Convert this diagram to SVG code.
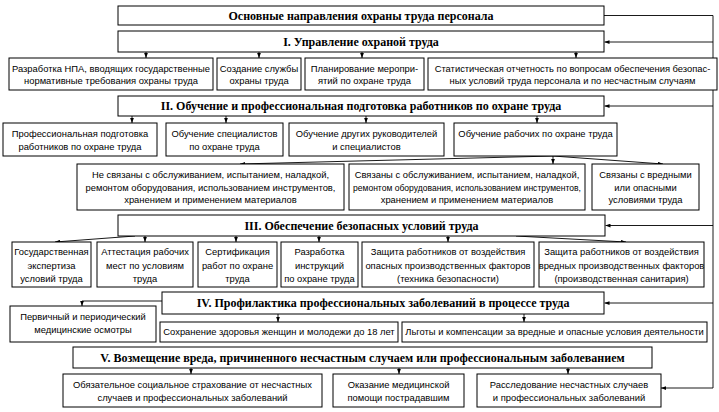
<svg xmlns="http://www.w3.org/2000/svg" width="719" height="412" viewBox="0 0 719 412">
<style>
.box{fill:#fff;stroke:#000;stroke-width:1}
.ln{fill:none;stroke:#000;stroke-width:0.9}
.t{font-family:"Liberation Sans",Arial,sans-serif;font-size:9.4px;text-anchor:middle;fill:#000}
.h{font-family:"Liberation Serif","Times New Roman",serif;font-weight:bold;font-size:12px;text-anchor:middle;fill:#000}
</style>
<defs>
<marker id="a" viewBox="0 0 8 6" refX="8" refY="3" markerWidth="5" markerHeight="4" orient="auto" markerUnits="userSpaceOnUse">
<path d="M0,0 L8,3 L0,6 z" fill="#000"/>
</marker>
</defs>
<rect width="719" height="412" fill="#fff"/>
<g id="connectors" class="ln">
<path d="M604,15.5 H713 V388 H661" marker-end="url(#a)"/>
<path d="M713,42 H604.5" marker-end="url(#a)"/>
<path d="M713,106 H604.5" marker-end="url(#a)"/>
<path d="M713,225.5 H605.5" marker-end="url(#a)"/>
<path d="M713,303 H604.5" marker-end="url(#a)"/>
<path d="M146,52 V58" marker-end="url(#a)"/>
<path d="M259,52 V58" marker-end="url(#a)"/>
<path d="M362,52 V58" marker-end="url(#a)"/>
<path d="M576,52 V58" marker-end="url(#a)"/>
<path d="M132,116 V123" marker-end="url(#a)"/>
<path d="M226,116 V123" marker-end="url(#a)"/>
<path d="M366,116 V123" marker-end="url(#a)"/>
<path d="M537,116 V123" marker-end="url(#a)"/>
<path d="M553,156 L240,164" marker-end="url(#a)"/>
<path d="M553,156 V164" marker-end="url(#a)"/>
<path d="M553,156 L663,164" marker-end="url(#a)"/>
<path d="M135,236 L55,242" marker-end="url(#a)"/>
<path d="M145,236 V242" marker-end="url(#a)"/>
<path d="M236,236 V242" marker-end="url(#a)"/>
<path d="M319,236 V242" marker-end="url(#a)"/>
<path d="M448,236 V242" marker-end="url(#a)"/>
<path d="M516,236 L626,242" marker-end="url(#a)"/>
<path d="M162,301 H82 V306" marker-end="url(#a)"/>
<path d="M278,314 V322" marker-end="url(#a)"/>
<path d="M524,314 V322" marker-end="url(#a)"/>
<path d="M191,368 V374" marker-end="url(#a)"/>
<path d="M399,368 V374" marker-end="url(#a)"/>
<path d="M568,368 V374" marker-end="url(#a)"/>
</g>
<g id="title"><rect class="box" x="118" y="6" width="486" height="19"/><text class="h" x="361" y="19.5">Основные направления охраны труда персонала</text></g>
<g id="sec1"><rect class="box" x="118" y="31" width="486" height="21"/><text class="h" x="361" y="45.5">I. Управление охраной труда</text></g>
<g id="n1a"><rect class="box" x="9" y="58" width="204" height="32"/><text class="t" x="111" y="71.5">Разработка НПА, вводящих государственные</text><text class="t" x="111" y="83.5">нормативные требования охраны труда</text></g>
<g id="n1b"><rect class="box" x="217" y="58" width="84" height="32"/><text class="t" x="259" y="71.5">Создание службы</text><text class="t" x="259" y="83.5">охраны труда</text></g>
<g id="n1c"><rect class="box" x="305" y="58" width="119" height="32"/><text class="t" x="364.5" y="71.5">Планирование меропри-</text><text class="t" x="364.5" y="83.5">ятий по охране труда</text></g>
<g id="n1d"><rect class="box" x="428" y="58" width="289" height="32"/><text class="t" x="572.5" y="71.5">Статистическая отчетность по вопросам обеспечения безопас-</text><text class="t" x="572.5" y="83.5">ных  условий труда персонала и по несчастным случаям</text></g>
<g id="sec2"><rect class="box" x="118" y="96" width="486" height="20"/><text class="h" x="361" y="110">II. Обучение и профессиональная подготовка работников по охране труда</text></g>
<g id="n2a"><rect class="box" x="3" y="123" width="154" height="33"/><text class="t" x="80" y="137">Профессиональная подготовка</text><text class="t" x="80" y="150">работников по охране труда</text></g>
<g id="n2b"><rect class="box" x="166" y="123" width="117" height="33"/><text class="t" x="224.5" y="137">Обучение специалистов</text><text class="t" x="224.5" y="150">по охране труда</text></g>
<g id="n2c"><rect class="box" x="289" y="123" width="155" height="33"/><text class="t" x="366.5" y="137">Обучение других руководителей</text><text class="t" x="366.5" y="150">и специалистов</text></g>
<g id="n2d"><rect class="box" x="454" y="123" width="163" height="33"/><text class="t" x="535.5" y="137">Обучение рабочих по охране труда</text></g>
<g id="n3a"><rect class="box" x="77" y="164" width="267" height="46"/><text class="t" x="210.5" y="178">Не связаны с обслуживанием, испытанием, наладкой,</text><text class="t" x="210.5" y="190.5">ремонтом оборудования, использованием инструментов,</text><text class="t" x="210.5" y="203">хранением и применением материалов</text></g>
<g id="n3b"><rect class="box" x="349" y="164" width="236" height="46"/><text class="t" x="467" y="178">Связаны с обслуживанием, испытанием, наладкой,</text><text class="t" x="467" y="190.5" textLength="228" lengthAdjust="spacingAndGlyphs">ремонтом оборудования, использованием инструментов,</text><text class="t" x="467" y="203">хранением и применением материалов</text></g>
<g id="n3c"><rect class="box" x="592" y="164" width="107" height="46"/><text class="t" x="645.5" y="178">Связаны с вредными</text><text class="t" x="645.5" y="190.5">или опасными</text><text class="t" x="645.5" y="203">условиями труда</text></g>
<g id="sec3"><rect class="box" x="118" y="215" width="487" height="21"/><text class="h" x="361.5" y="229.5">III. Обеспечение безопасных условий труда</text></g>
<g id="n4a"><rect class="box" x="12" y="242" width="79" height="45"/><text class="t" x="51.5" y="255">Государственная</text><text class="t" x="51.5" y="268.5">экспертиза</text><text class="t" x="51.5" y="282">условий труда</text></g>
<g id="n4b"><rect class="box" x="97" y="242" width="96" height="45"/><text class="t" x="145" y="255">Аттестация рабочих</text><text class="t" x="145" y="268.5">мест по условиям</text><text class="t" x="145" y="282">труда</text></g>
<g id="n4c"><rect class="box" x="198" y="242" width="79" height="45"/><text class="t" x="237.5" y="255">Сертификация</text><text class="t" x="237.5" y="268.5">работ по охране</text><text class="t" x="237.5" y="282">труда</text></g>
<g id="n4d"><rect class="box" x="281" y="242" width="77" height="45"/><text class="t" x="319.5" y="255">Разработка</text><text class="t" x="319.5" y="268.5">инструкций</text><text class="t" x="319.5" y="282">по охране труда</text></g>
<g id="n4e"><rect class="box" x="362" y="242" width="172" height="45"/><text class="t" x="448" y="255">Защита работников от воздействия</text><text class="t" x="448" y="268.5">опасных производственных факторов</text><text class="t" x="448" y="282">(техника безопасности)</text></g>
<g id="n4f"><rect class="box" x="539" y="242" width="165" height="45"/><text class="t" x="621.5" y="255">Защита работников от воздействия</text><text class="t" x="621.5" y="268.5">вредных производственных факторов</text><text class="t" x="621.5" y="282">(производственная санитария)</text></g>
<g id="sec4"><rect class="box" x="162" y="292" width="442" height="22"/><text class="h" x="383" y="307">IV. Профилактика профессиональных заболеваний в процессе труда</text></g>
<g id="n5a"><rect class="box" x="10" y="306" width="146" height="36"/><text class="t" x="83" y="320">Первичный и периодический</text><text class="t" x="83" y="333">медицинские осмотры</text></g>
<g id="n5b"><rect class="box" x="160" y="322" width="238" height="20"/><text class="t" x="279" y="335">Сохранение здоровья женщин и молодежи до 18 лет</text></g>
<g id="n5c"><rect class="box" x="402" y="322" width="305" height="20"/><text class="t" x="554.5" y="335">Льготы и компенсации за вредные и опасные условия деятельности</text></g>
<g id="sec5"><rect class="box" x="73" y="347" width="579" height="21"/><text class="h" x="362.5" y="361.5">V. Возмещение вреда, причиненного несчастным случаем или профессиональным заболеванием</text></g>
<g id="n6a"><rect class="box" x="63" y="374" width="259" height="33"/><text class="t" x="192.5" y="387.5">Обязательное социальное страхование от несчастных</text><text class="t" x="192.5" y="400.5">случаев и профессиональных заболеваний</text></g>
<g id="n6b"><rect class="box" x="333" y="374" width="131" height="33"/><text class="t" x="398.5" y="387.5">Оказание медицинской</text><text class="t" x="398.5" y="400.5">помощи пострадавшим</text></g>
<g id="n6c"><rect class="box" x="477" y="374" width="184" height="33"/><text class="t" x="569" y="387.5">Расследование несчастных случаев</text><text class="t" x="569" y="400.5">и профессиональных заболеваний</text></g>
</svg>
